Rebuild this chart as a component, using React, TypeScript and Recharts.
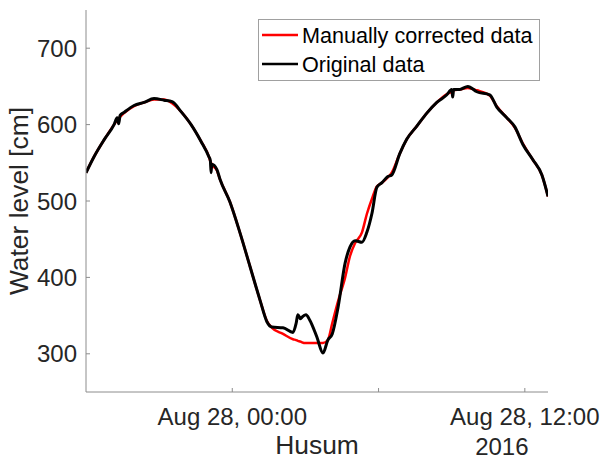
import React from 'react';
import { LineChart, Line, XAxis, YAxis } from 'recharts';

// hours relative to Aug 28 2016, 00:00
const timeHours = [
  -6.0, -5.67, -5.26, -4.85, -4.72, -4.66, -4.6, -4.44, -4.03, -3.62, -3.21, -2.8, -2.47, -2.1,
  -1.69, -1.28, -0.96, -0.9, -0.87, -0.84, -0.63, -0.5, -0.1, 0.32, 0.73, 1.14, 1.42, 1.63,
  2.08, 2.49, 2.62, 2.69, 2.8, 2.86, 3.02, 3.18, 3.47, 3.72, 3.92, 4.1, 4.34, 4.63, 4.83,
  5.04, 5.32, 5.52, 5.73, 5.93, 6.14, 6.38, 6.54, 6.87, 7.16, 7.57, 7.98, 8.39, 8.8, 9.0,
  9.04, 9.08, 9.33, 9.66, 10.03, 10.56, 10.85, 11.26, 11.59, 11.92, 12.33, 12.7, 12.95,
];

const originalLevel = [
  537, 558, 580, 600, 609, 601, 612, 616, 625, 629, 634, 632, 630, 617,
  600, 578, 558, 553, 537, 548, 541, 528, 499, 458, 414, 370, 342, 335,
  334, 328, 340, 351, 346, 348, 351, 344, 322, 301, 318, 326, 361, 419, 440,
  448, 446, 459, 484, 518, 524, 532, 534, 562, 581, 598, 615, 629, 639, 646,
  636, 646, 646, 650, 643, 639, 623, 609, 597, 574, 554, 534, 506,
];

const correctedLevel = [
  537, 558, 580, 600, 606, 608, 610, 615, 624, 629, 633, 633, 628, 617,
  600, 578, 558, 552, 550, 548, 540, 528, 499, 458, 414, 370, 343, 334,
  326, 319, 318, 317, 316, 315, 314, 314, 314, 314, 318, 340, 369, 400, 428,
  445, 459, 483, 503, 519, 524, 531, 537, 562, 581, 598, 615, 629, 640, 643,
  644, 645, 646, 648, 645, 638, 624, 609, 596, 575, 554, 534, 506,
];

const xTicks = [0, 6, 12];
const xTickLabels: Record<number, string> = { 0: 'Aug 28, 00:00', 6: '', 12: 'Aug 28, 12:00' };
const yTicks = [300, 400, 500, 600, 700];
const yearLabel = '2016';
const xTitle = 'Husum';
const yTitle = 'Water level [cm]';
const legendItems = [
  { name: 'Manually corrected data', color: '#ff0000' },
  { name: 'Original data', color: '#000000' },
];

const data = timeHours.map((t, i) => ({ t, original: originalLevel[i], corrected: correctedLevel[i] }));

const FONT = '"Liberation Sans", Arial, Helvetica, sans-serif';
const TXT = '#262626';
const AXIS = '#8c8c8c';

const XTick = (props: any) => {
  const { x, y, payload } = props;
  const label = xTickLabels[payload.value] ?? '';
  return (
    <g>
      <text x={x} y={y} dy={17} textAnchor="middle" fontFamily={FONT} fontSize={24} fill={TXT}>
        {label}
      </text>
      {payload.value === 12 && (
        <text x={x - 23} y={y} dy={47} textAnchor="middle" fontFamily={FONT} fontSize={24} fill={TXT}>
          {yearLabel}
        </text>
      )}
    </g>
  );
};

const YTick = (props: any) => {
  const { x, y, payload } = props;
  return (
    <text x={x} y={y} dy={8.5} textAnchor="end" fontFamily={FONT} fontSize={24} fill={TXT}>
      {payload.value}
    </text>
  );
};

const LegendBox = () => (
  <svg width={282} height={62} style={{ display: 'block' }}>
    <rect x={0.5} y={0.5} width={281} height={61} fill="#fff" stroke="#a0a0a0" strokeWidth={1} />
    {legendItems.map((it, i) => (
      <g key={it.name}>
        <line x1={4} x2={40} y1={16 + i * 29} y2={16 + i * 29} stroke={it.color} strokeWidth={2.5} />
        <text x={44} y={23.5 + i * 29.5} fontFamily={FONT} fontSize={21.6} fill="#000">
          {it.name}
        </text>
      </g>
    ))}
  </svg>
);

export default function App() {
  return (
    <div style={{ position: 'absolute', left: 0, top: 0, width: 601, height: 460, background: '#fff' }}>
      <LineChart width={601} height={460} data={data} margin={{ top: 10, right: 53, left: 0, bottom: 0 }}>
        <XAxis
          dataKey="t"
          type="number"
          domain={[-6, 12.95]}
          ticks={xTicks}
          allowDataOverflow
          height={68}
          axisLine={{ stroke: AXIS, strokeWidth: 1 }}
          tickLine={{ stroke: AXIS }}
          tickSize={-4}
          tickMargin={20}
          tick={<XTick />}
          label={(p: any) => {
            const vb = p.viewBox || { x: 86, y: 392, width: 462 };
            return (
              <text x={vb.x + vb.width / 2} y={454} textAnchor="middle" fontFamily={FONT} fontSize={26.4} fill={TXT}>
                {xTitle}
              </text>
            );
          }}
        />
        <YAxis
          type="number"
          domain={[250, 750]}
          ticks={yTicks}
          allowDataOverflow
          width={86}
          axisLine={{ stroke: AXIS, strokeWidth: 1 }}
          tickLine={{ stroke: AXIS }}
          tickSize={-4}
          tickMargin={13}
          tick={<YTick />}
          label={(p: any) => {
            const vb = p.viewBox || { x: 0, y: 10, height: 382 };
            const cy = vb.y + vb.height / 2;
            return (
              <text
                x={27.7}
                y={cy}
                transform={`rotate(-90 27.7 ${cy})`}
                textAnchor="middle"
                fontFamily={FONT}
                fontSize={26.4}
                fill={TXT}
              >
                {yTitle}
              </text>
            );
          }}
        />
        <Line
          dataKey="corrected"
          name={legendItems[0].name}
          stroke={legendItems[0].color}
          strokeWidth={2.5}
          dot={false}
          type="monotone"
          isAnimationActive={false}
        />
        <Line
          dataKey="original"
          name={legendItems[1].name}
          stroke={legendItems[1].color}
          strokeWidth={3}
          dot={false}
          type="monotone"
          isAnimationActive={false}
        />
      </LineChart>
      <div style={{ position: 'absolute', left: 258, top: 19 }}>
        <LegendBox />
      </div>
    </div>
  );
}
